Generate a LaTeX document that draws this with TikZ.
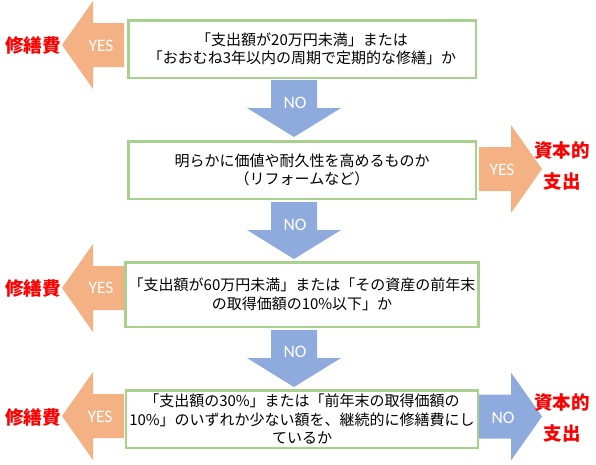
\documentclass[tikz,border=0pt]{standalone}
\usepackage{fontspec}
\newfontfamily\jpfont{Noto Sans CJK JP}
\newfontfamily\latinfont{Carlito}
\definecolor{vertboite}{HTML}{A9D18E}
\definecolor{orangefleche}{HTML}{F4B183}
\definecolor{bleufleche}{HTML}{8FAADC}
\begin{document}
\begin{tikzpicture}[x=1pt,y=-1pt]
	\tikzstyle{boite}=[draw=vertboite,line width=2.5pt,minimum width=347.5pt,minimum height=57.5pt,align=center,font=\jpfont\fontsize{15}{18.5}\selectfont]
	\tikzstyle{oui}=[fill=orangefleche]
	\tikzstyle{non}=[fill=bleufleche]
	\tikzstyle{etiquette}=[text=white,inner sep=0pt,font=\latinfont\fontsize{17.5}{20}\selectfont]
	\tikzstyle{resultat}=[text=red,align=center,inner sep=0pt,font=\jpfont\bfseries\fontsize{18.5}{31}\selectfont]
	\def\ColonneBoites{302}
	\def\ColonneGauche{33}
	\def\ColonneDroite{562}
	\useasboundingbox (0,0) rectangle (596,464);
	% questions
	\node[boite] (Q1) at (\ColonneBoites,49) {「支出額が20万円未満」または\\「おおむね3年以内の周期で定期的な修繕」か};
	\node[boite] (Q2) at (\ColonneBoites,170) {明らかに価値や耐久性を高めるものか\\（リフォームなど）};
	\node[boite,minimum height=64.5pt] (Q3) at (\ColonneBoites,294.5) {「支出額が60万円未満」または「その資産の前年末\\の取得価額の10\%以下」か};
	\node[boite] (Q4) at (\ColonneBoites,419) {「支出額の30\%」または「前年末の取得価額の\\10\%」のいずれか少ない額を、継続的に修繕費にし\\ているか};
	% fleches
	\fill[oui] (124,23) -- ++(-31,0) -- ++(0,-22) -- ++(-31,44) -- ++(31,44) -- ++(0,-22) -- ++(31,0) -- cycle;
	\fill[non] (271,80) -- ++(46,0) -- ++(0,28) -- ++(24,0) -- ++(-47,29) -- ++(-47,-29) -- ++(24,0) -- cycle;
	\fill[oui] (479,147) -- ++(32,0) -- ++(0,-22) -- ++(31,44) -- ++(-31,44) -- ++(0,-22) -- ++(-32,0) -- cycle;
	\fill[non] (271,202) -- ++(46,0) -- ++(0,28) -- ++(24,0) -- ++(-47,29) -- ++(-47,-29) -- ++(24,0) -- cycle;
	\fill[oui] (124,266) -- ++(-31,0) -- ++(0,-22) -- ++(-31,44) -- ++(31,44) -- ++(0,-22) -- ++(31,0) -- cycle;
	\fill[non] (271,330) -- ++(46,0) -- ++(0,28) -- ++(24,0) -- ++(-47,29) -- ++(-47,-29) -- ++(24,0) -- cycle;
	\fill[oui] (124,394) -- ++(-31,0) -- ++(0,-22) -- ++(-31,44) -- ++(31,44) -- ++(0,-22) -- ++(31,0) -- cycle;
	\fill[non] (479,394.5) -- ++(32,0) -- ++(0,-22) -- ++(31,44) -- ++(-31,44) -- ++(0,-22) -- ++(-32,0) -- cycle;
	% etiquettes
	\node[etiquette] (O1) at (101,46) {YES};
	\node[etiquette] (N1) at (295,103) {NO};
	\node[etiquette] (O2) at (502,170) {YES};
	\node[etiquette] (N2) at (295,225) {NO};
	\node[etiquette] (O3) at (101,288) {YES};
	\node[etiquette] (N3) at (295,352) {NO};
	\node[etiquette] (O4) at (100,417) {YES};
	\node[etiquette] (N4) at (503,418) {NO};
	% resultats
	\node[resultat] (S1) at (\ColonneGauche,45) {修繕費};
	\node[resultat] (C1) at (\ColonneDroite,166) {資本的\\支出};
	\node[resultat] (S2) at (\ColonneGauche,288) {修繕費};
	\node[resultat] (S3) at (\ColonneGauche,417) {修繕費};
	\node[resultat] (C2) at (\ColonneDroite,418) {資本的\\支出};
\end{tikzpicture}
\end{document}
